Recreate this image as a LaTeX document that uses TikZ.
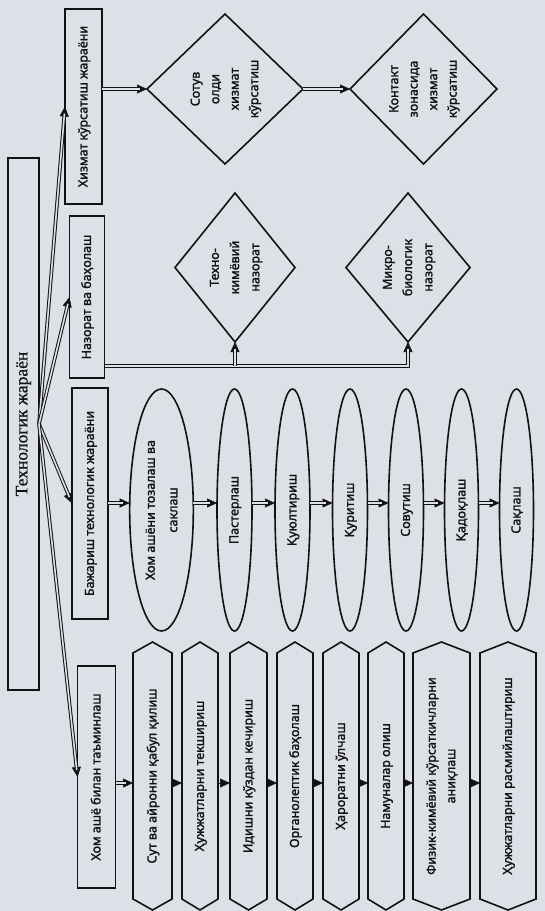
\documentclass[tikz,border=0pt]{standalone}
\usepackage{fontspec}
\setmainfont{Noto Sans}[FakeBold=1.6]
\newfontfamily\titlefont{Liberation Serif}[FakeBold=0.8]
\usetikzlibrary{arrows.meta,shapes.geometric,calc}
\definecolor{bg}{RGB}{221,224,230}
\definecolor{ink}{RGB}{18,18,20}
\newcommand\vt[2][1.3]{\rotatebox{90}{\renewcommand\arraystretch{#1}\begin{tabular}{@{}c@{}}#2\end{tabular}}}
\newcommand\darrow[1]{\draw[tipar] #1; \draw[dblshaft] #1;}
\tikzset{
  every node/.style={inner sep=0pt, outer sep=0pt, text=ink, font=\fontsize{12.5}{15}\selectfont},
  shp/.style={draw=ink, line width=1.6pt},
  rbox/.style 2 args={shp, rectangle, minimum width=#1, minimum height=#2},
  oval/.style 2 args={shp, ellipse, minimum width=#1, minimum height=#2},
  rhomb/.style 2 args={shp, diamond, minimum width=#1, minimum height=#2},
  hexb/.style 2 args={rectangle, minimum width=#1, minimum height=#2},
  dblshaft/.style={draw=ink, double=bg, double distance=1.6pt, line width=1pt, line join=miter, shorten >=7pt},
  tipar/.style={draw=ink, line width=0.6pt, line join=miter, -{Triangle[length=10pt,width=9pt]}},
}
\begin{document}
\begin{tikzpicture}[x=1pt,y=-1pt]
\fill[bg] (0,0) rectangle (545,911);
\useasboundingbox (0,0) rectangle (545,911);

% main box
\node[rbox={31pt}{532pt}] (tech) at (23.5,424) {\vt{\titlefont\fontsize{17.5}{20}\selectfont Технологик жараён}};

% second level boxes
\node[rbox={37pt}{195pt}] (hizmat) at (83.5,106.5) {\vt{Хизмат кўрсатиш жараёни}};
\node[rbox={35pt}{162pt}] (nazorat) at (87,297) {\vt{Назорат ва баҳолаш}};
\node[rbox={36pt}{231pt}] (bajarish) at (90,503.5) {\vt{Бажариш технологик жараёни}};
\node[rbox={38pt}{222pt}] (xom) at (96.5,777) {\vt{Хом ашё билан таъминлаш}};

% diamonds
\node[rhomb={156pt}{150pt}] (d1) at (225,89) {\vt{Сотув\\олди\\хизмат\\кўрсатиш}};
\node[rhomb={147pt}{150pt}] (d2) at (423.5,89) {\vt{Контакт\\зонасида\\хизмат\\кўрсатиш}};
\node[rhomb={120pt}{149pt}] (d3) at (235,267.5) {\vt[1.35]{Техно-\\кимёвий\\назорат}};
\node[rhomb={124pt}{149pt}] (d4) at (408,267.5) {\vt[1.35]{Микро-\\биологик\\назорат}};

% ellipses
\node[oval={61pt}{242pt}] (e1) at (161.5,510) {\vt[1.5]{Хом ашёни тозалаш ва\\саклаш}};
\node[oval={35pt}{242pt}] (e2) at (234.5,510) {\vt{Пастерлаш}};
\node[oval={35pt}{242pt}] (e3) at (292.5,510) {\vt{Қуюлтириш}};
\node[oval={35pt}{242pt}] (e4) at (350,510) {\vt{Қуритиш}};
\node[oval={35pt}{242pt}] (e5) at (406,510) {\vt{Совутиш}};
\node[oval={34pt}{242pt}] (e6) at (461.5,510) {\vt{Қадоқлаш}};
\node[oval={34pt}{242pt}] (e7) at (516.5,510) {\vt{Сақлаш}};

% hexagon-ended boxes
\node[hexb={39pt}{268pt}] (h1) at (152.5,776) {\vt{Сут ва айронни қабул қилиш}};
\node[hexb={36pt}{268pt}] (h2) at (200,776) {\vt{Ҳужжатларни текшириш}};
\node[hexb={37pt}{268pt}] (h3) at (248.5,776) {\vt{Идишни кўздан кечириш}};
\node[hexb={36pt}{268pt}] (h4) at (295,776) {\vt{Органолептик баҳолаш}};
\node[hexb={36pt}{268pt}] (h5) at (341,776) {\vt{Ҳароратни ўлчаш}};
\node[hexb={36pt}{268pt}] (h6) at (386,776) {\vt{Намуналар олиш}};
\node[hexb={57pt}{268pt}] (h7) at (441.5,776) {\vt{Физик-кимёвий кўрсаткичларни\\аниқлаш}};
\node[hexb={56pt}{268pt}] (h8) at (508,776) {\vt{Ҳужжатларни расмийлаштириш}};
\foreach \i in {1,...,8}{
  \draw[shp, line join=miter] ($(h\i.north west)+(0,11)$) -- (h\i.north) -- ($(h\i.north east)+(0,11)$)
     -- ($(h\i.south east)+(0,-11)$) -- (h\i.south) -- ($(h\i.south west)+(0,-11)$) -- cycle;
}

% fan from main box
\darrow{(tech.east) -- (hizmat.west)}
\darrow{(tech.east) -- (nazorat.west)}
\darrow{(tech.east) -- (bajarish.west)}
\darrow{(tech.east) -- (xom.west)}

% service branch
\darrow{(hizmat.east |- d1.west) -- (d1.west)}
\darrow{(d1.east) -- (d2.west)}

% control branch
\coordinate (nz) at ($(nazorat.south east)+(0,-12)$);
\darrow{(nz) -- (nz -| d4.south) -- (d4.south)}
\darrow{(nz -| d3.south) -- (d3.south)}

% execution chain
\coordinate (ey) at (0,503);
\darrow{(bajarish.east |- ey) -- (e1.west |- ey)}
\foreach \a/\b in {1/2,2/3,3/4,4/5,5/6,6/7}{
  \darrow{(e\a.east |- ey) -- (e\b.west |- ey)}
}

% supply chain
\coordinate (hy) at (0,783);
\darrow{(xom.east |- hy) -- (h1.west |- hy)}
\foreach \a/\b in {1/2,2/3,3/4,4/5,5/6,6/7,7/8}{
  \draw[tipar] (h\a.east |- hy) -- (h\b.west |- hy);
}
\end{tikzpicture}
\end{document}
